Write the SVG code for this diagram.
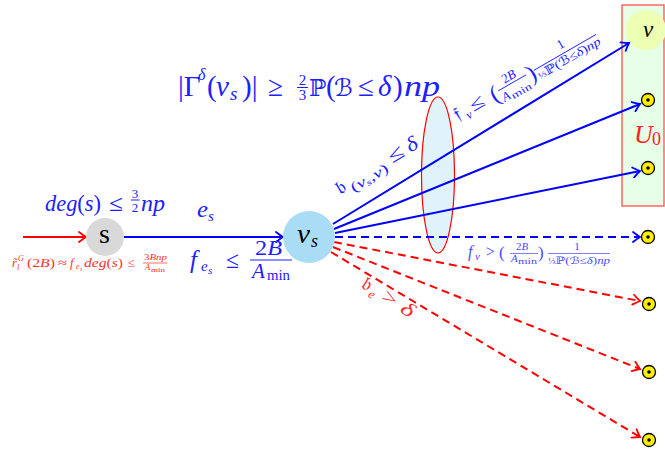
<svg xmlns="http://www.w3.org/2000/svg" width="665" height="450" viewBox="0 0 665 450" font-family="'Liberation Serif', serif">
<defs>
<marker id="ab" markerUnits="userSpaceOnUse" markerWidth="12" markerHeight="12" viewBox="-9 -6 11 12" refX="0" refY="0" orient="auto">
<path d="M-7,-5 Q-2.5,-1.5 0,0 Q-2.5,1.5 -7,5" fill="none" stroke="#0000ff" stroke-width="1.8" stroke-linecap="round"/>
</marker>
<marker id="ar" markerUnits="userSpaceOnUse" markerWidth="12" markerHeight="12" viewBox="-9 -6 11 12" refX="0" refY="0" orient="auto">
<path d="M-7,-5 Q-2.5,-1.5 0,0 Q-2.5,1.5 -7,5" fill="none" stroke="#ff0000" stroke-width="1.8" stroke-linecap="round"/>
</marker>
</defs>
<style>
text{font-family:"Liberation Serif","Times New Roman",serif}
.i{font-style:italic}
.sym{font-family:"DejaVu Serif","DejaVu Sans",serif}
.fk{font-family:"DejaVu Serif","DejaVu Sans","Noto Sans",serif}
.bt{fill:#2020ff}
.lb{fill:#4a4aff}
.rt{fill:#ff3030}
.blue{stroke:#0000ff;stroke-width:2;fill:none}
.red{stroke:#ff0000;stroke-width:2;fill:none}
.dash{stroke-dasharray:8 5}
.dot{fill:#ffee00;stroke:#000;stroke-width:1.3}
.fb{stroke-width:1}
</style>

<g id="U0-set">
<rect x="622" y="5" width="42" height="201" fill="#e6ffe6" stroke="#ff6666" stroke-width="1.5"/>
<text x="634" y="143" font-size="26" class="i" fill="#ff2020">U</text>
<text x="652" y="145" font-size="18" fill="#ff2020">0</text>
</g>

<g id="gamma-set">
<ellipse cx="438" cy="175" rx="16.5" ry="78" fill="#e0f3fa" stroke="#ff0000" stroke-width="1.2"/>
</g>

<g id="connectors">
<path class="red" d="M23,237 L86,237" marker-end="url(#ar)"/>
<path class="blue" d="M124,237 L283,237" marker-end="url(#ab)"/>
<path class="blue" d="M333,224 L629,43" marker-end="url(#ab)"/>
<path class="blue" d="M334,229 L640,104" marker-end="url(#ab)"/>
<path class="blue" d="M335,233 L640,171" marker-end="url(#ab)"/>
<path class="blue dash" d="M335,237 L640,237" marker-end="url(#ab)"/>
<path class="red dash" d="M334,242 L640,301" marker-end="url(#ar)"/>
<path class="red dash" d="M333,247 L640,369" marker-end="url(#ar)"/>
<path class="red dash" d="M331,252 L640,437" marker-end="url(#ar)"/>
</g>

<g id="s">
<circle cx="105" cy="237" r="19" fill="#d9d9d9"/>
<text x="104.5" y="242.5" font-size="28" text-anchor="middle" fill="#000">s</text>
</g>

<g id="vs">
<circle cx="309" cy="237" r="26" fill="#a9ddf6"/>
<text x="297" y="243" font-size="27" class="i" fill="#000" textLength="13" lengthAdjust="spacingAndGlyphs">v</text>
<text x="311" y="247" font-size="18" class="i" fill="#000">s</text>
</g>

<g id="v">
<circle cx="646" cy="30" r="20" fill="#edffb3"/>
<text x="648" y="37" font-size="23" class="i" text-anchor="middle" fill="#000">v</text>
</g>

<g id="u1"><circle class="dot" cx="648" cy="100" r="6.5"/><circle cx="648" cy="100" r="1.8"/></g>
<g id="u2"><circle class="dot" cx="648" cy="168" r="6.5"/><circle cx="648" cy="168" r="1.8"/></g>
<g id="w1"><circle class="dot" cx="648" cy="237" r="6.5"/><circle cx="648" cy="237" r="1.8"/></g>
<g id="w2"><circle class="dot" cx="649" cy="304" r="6.5"/><circle cx="649" cy="304" r="1.8"/></g>
<g id="w3"><circle class="dot" cx="649" cy="372" r="6.5"/><circle cx="649" cy="372" r="1.8"/></g>
<g id="w4"><circle class="dot" cx="649" cy="440" r="6.5"/><circle cx="649" cy="440" r="1.8"/></g>

<g id="labels">
<!-- deg(s) <= 3/2 np -->
<g class="bt">
<text x="45" y="211" font-size="23" textLength="56" lengthAdjust="spacingAndGlyphs"><tspan class="i">deg</tspan>(<tspan class="i">s</tspan>)</text>
<text x="109" y="211" font-size="23" textLength="14" lengthAdjust="spacingAndGlyphs">≤</text>
<text x="135" y="198" font-size="13" text-anchor="middle">3</text>
<text x="135" y="212" font-size="13" text-anchor="middle">2</text>
<text x="141" y="211" font-size="23" class="i" textLength="24" lengthAdjust="spacingAndGlyphs">np</text>
</g>
<line x1="131" y1="200" x2="139.5" y2="200" stroke="#2020ff" class="fb"/>

<!-- e_s -->
<g class="bt">
<text x="197" y="217" font-size="23" class="i" textLength="11" lengthAdjust="spacingAndGlyphs">e</text>
<text x="208" y="221" font-size="15" class="i">s</text>
</g>

<!-- f_es <= 2B/Amin -->
<g class="bt">
<text x="190" y="268" font-size="25" class="i">f</text>
<text x="201" y="271" font-size="15" class="i">e</text>
<text x="208" y="274" font-size="11" class="i">s</text>
<text x="226" y="268" font-size="24" textLength="13" lengthAdjust="spacingAndGlyphs">≤</text>
<text x="255" y="255" font-size="21" textLength="27" lengthAdjust="spacingAndGlyphs">2<tspan class="i">B</tspan></text>
<text x="252" y="278" font-size="21" class="i">A</text>
<text x="267" y="280" font-size="15" textLength="23" lengthAdjust="spacingAndGlyphs">min</text>
</g>
<line x1="250" y1="260" x2="292" y2="260" stroke="#2020ff" class="fb"/>

<!-- red small label -->
<g class="rt">
<text x="12" y="267" font-size="12.5" class="i">r̃</text>
<text x="17" y="270" font-size="8" class="i">l</text>
<text x="18" y="261" font-size="8" class="i">G</text>
<text x="27" y="267" font-size="12.5" textLength="28" lengthAdjust="spacingAndGlyphs">(2<tspan class="i">B</tspan>)</text>
<text x="58" y="267" font-size="12.5" textLength="9" lengthAdjust="spacingAndGlyphs">≈</text>
<text x="70" y="267" font-size="12.5" class="i">f</text>
<text x="76" y="269" font-size="8" class="i">e</text>
<text x="80" y="271" font-size="6" class="i">s</text>
<text x="84" y="267" font-size="12.5" textLength="39" lengthAdjust="spacingAndGlyphs"><tspan class="i">deg</tspan>(<tspan class="i">s</tspan>)</text>
<text x="128" y="267" font-size="12.5" textLength="7" lengthAdjust="spacingAndGlyphs">≤</text>
<text x="144" y="260" font-size="8.5" textLength="23" lengthAdjust="spacingAndGlyphs">3<tspan class="i">Bnp</tspan></text>
<text x="145" y="270" font-size="8.5" class="i">A</text>
<text x="151" y="271.5" font-size="6" textLength="14" lengthAdjust="spacingAndGlyphs">min</text>
</g>
<line x1="143" y1="263" x2="167" y2="263" stroke="#ff3030" stroke-width="0.7"/>

<!-- big label -->
<g class="bt">
<text y="96" font-size="29"><tspan x="178">|Γ</tspan><tspan x="198" y="80" font-size="16" class="i">δ</tspan><tspan x="207" y="96">(</tspan><tspan x="216" class="i">v</tspan><tspan x="230" y="100" font-size="19" class="i">s</tspan><tspan x="242" y="96">)|</tspan></text>
<text x="268" y="96" font-size="29" textLength="15" lengthAdjust="spacingAndGlyphs">≥</text>
<text x="302.5" y="85" font-size="15" text-anchor="middle">2</text>
<text x="302.5" y="100" font-size="15" text-anchor="middle">3</text>
<text y="96" font-size="29"><tspan x="309" class="sym" font-size="23">ℙ</tspan><tspan x="326">(</tspan><tspan x="334" class="sym i" font-size="24">ℬ</tspan><tspan x="358">≤</tspan><tspan x="378" class="i">δ</tspan><tspan x="393">)</tspan></text>
<text x="404" y="96" font-size="30" class="i" textLength="36" lengthAdjust="spacingAndGlyphs">np</text>
</g>
<line x1="297" y1="87.5" x2="308" y2="87.5" stroke="#2020ff" class="fb"/>

<!-- b_(vs,v) <= delta, sloped -->
<g transform="translate(340,195) rotate(-31)" class="bt">
<text x="0" y="0" font-size="20" class="fk">𝔟</text>
<text x="13" y="5" font-size="14" textLength="42" lengthAdjust="spacingAndGlyphs">(<tspan class="i">v</tspan><tspan class="i" font-size="9" dy="2">s</tspan><tspan dy="-2">,</tspan><tspan class="i">v</tspan>)</text>
<text x="61" y="0" font-size="20" textLength="16" lengthAdjust="spacingAndGlyphs">≤</text>
<text x="82" y="0" font-size="20" class="i" textLength="11" lengthAdjust="spacingAndGlyphs">δ</text>
</g>

<!-- f_v <= ..., sloped -->
<g transform="translate(458,121) rotate(-30)" class="bt">
<text x="0" y="0" font-size="19" class="fk">𝔣</text>
<text x="10" y="4" font-size="12" class="i">v</text>
<text x="18" y="0" font-size="19" textLength="15" lengthAdjust="spacingAndGlyphs">≤</text>
<text x="41" y="3" font-size="24">(</text>
<text x="66" y="-9" font-size="13" text-anchor="middle">2<tspan class="i">B</tspan></text>
<text x="50" y="7" font-size="13" class="i">A</text>
<text x="59" y="9" font-size="10" textLength="22" lengthAdjust="spacingAndGlyphs">min</text>
<text x="83" y="3" font-size="24">)</text>
<text x="127" y="-11" font-size="13" text-anchor="middle">1</text>
<text x="92" y="5" font-size="12" textLength="71" lengthAdjust="spacingAndGlyphs"><tspan font-size="9">⅓</tspan><tspan class="sym">ℙ</tspan>(<tspan class="sym i">ℬ</tspan>≤<tspan class="i">δ</tspan>)<tspan class="i">np</tspan></text>
</g>
<g transform="translate(458,121) rotate(-30)">
<line x1="50" y1="-6" x2="82" y2="-6" stroke="#2020ff" stroke-width="0.9"/>
<line x1="91" y1="-6" x2="163" y2="-6" stroke="#2020ff" stroke-width="0.9"/>
</g>

<!-- f_v > ..., horizontal -->
<g class="lb">
<text x="468" y="257" font-size="16" class="i">f</text>
<text x="475" y="260" font-size="11" class="i">v</text>
<text x="486" y="257" font-size="16" textLength="9" lengthAdjust="spacingAndGlyphs">&gt;</text>
<text x="499" y="258" font-size="17">(</text>
<text x="522" y="250" font-size="11" text-anchor="middle">2<tspan class="i">B</tspan></text>
<text x="511" y="262" font-size="11" class="i">A</text>
<text x="518" y="264" font-size="8" textLength="19" lengthAdjust="spacingAndGlyphs">min</text>
<text x="538" y="258" font-size="17">)</text>
<text x="577" y="250" font-size="11" text-anchor="middle">1</text>
<text x="548" y="263.5" font-size="10" textLength="62" lengthAdjust="spacingAndGlyphs"><tspan font-size="8">⅓</tspan><tspan class="sym">ℙ</tspan>(<tspan class="sym i">ℬ</tspan>≤<tspan class="i">δ</tspan>)<tspan class="i">np</tspan></text>
</g>
<line x1="510" y1="253.5" x2="538" y2="253.5" stroke="#4a4aff" stroke-width="0.7"/>
<line x1="548" y1="253.5" x2="610" y2="253.5" stroke="#4a4aff" stroke-width="0.7"/>

<!-- b_e > delta, sloped -->
<g transform="translate(360,287) rotate(32)" class="rt">
<text x="0" y="0" font-size="20" class="fk">𝔟</text>
<text x="11" y="4" font-size="13" class="i">e</text>
<text x="24" y="0" font-size="20" textLength="15" lengthAdjust="spacingAndGlyphs">&gt;</text>
<text x="46" y="0" font-size="20" class="i" textLength="13" lengthAdjust="spacingAndGlyphs">δ</text>
</g>
</g>
</svg>
